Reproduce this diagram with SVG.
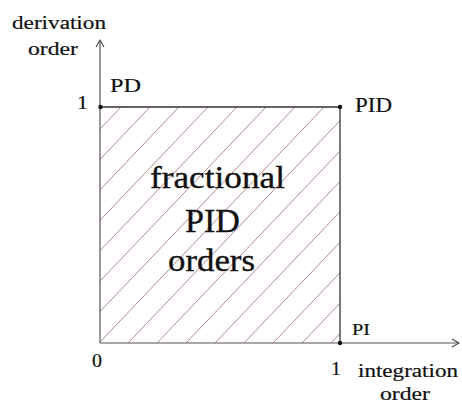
<svg xmlns="http://www.w3.org/2000/svg" width="462" height="403" viewBox="0 0 462 403">
<style>
text{font-family:"Liberation Serif","Times New Roman",serif;fill:#111;stroke:#111;stroke-width:0.2}
.big{stroke-width:0.35}
.ax{stroke:#555;stroke-width:1.2;fill:none}
.bx{stroke:#333;stroke-width:1.3;fill:none}
.ah{stroke:#444;stroke-width:1.1;fill:none}
.h{stroke:#8a3a3a;stroke-width:0.75;opacity:0.8}
.dot{fill:#111}
</style>
<defs>
<clipPath id="clip"><rect x="100" y="107" width="240" height="236"/></clipPath>
</defs>
<rect width="462" height="403" fill="#fff"/>
<g id="hatch" clip-path="url(#clip)">
<path class="h" d="M-104,343l225,-236M-75,343l225,-236M-46,343l225,-236M-17,343l225,-236M12,343l225,-236M41,343l225,-236M70,343l225,-236M99,343l225,-236M128,343l225,-236M157,343l225,-236M186,343l225,-236M215,343l225,-236M244,343l225,-236M273,343l225,-236M302,343l225,-236M331,343l225,-236"/>
</g>
<g id="connectors">
<line class="ax" x1="100" y1="343" x2="100" y2="41"/>
<path class="ah" d="M96,47L100,40L104,47"/>
<line class="ax" x1="100" y1="343" x2="458" y2="343"/>
<path class="ah" d="M452,339L459,343L452,347"/>
<line class="bx" x1="100" y1="107" x2="340" y2="107"/>
<line class="bx" x1="340" y1="107" x2="340" y2="343"/>
</g>
<g id="node-PD">
<circle class="dot" cx="100.5" cy="107" r="2.2"/>
<text x="110" y="92" font-size="19" textLength="31" lengthAdjust="spacingAndGlyphs">PD</text>
<text x="77" y="109" font-size="19" textLength="11" lengthAdjust="spacingAndGlyphs">1</text>
</g>
<g id="node-PID">
<circle class="dot" cx="340" cy="107" r="2.2"/>
<text x="355" y="112" font-size="20" textLength="37" lengthAdjust="spacingAndGlyphs">PID</text>
</g>
<g id="node-PI">
<circle class="dot" cx="340" cy="343" r="2.2"/>
<text x="352" y="335" font-size="17" textLength="18" lengthAdjust="spacingAndGlyphs">PI</text>
<text x="331" y="375" font-size="19" textLength="10" lengthAdjust="spacingAndGlyphs">1</text>
</g>
<g id="node-origin">
<text x="92" y="367" font-size="19" textLength="10" lengthAdjust="spacingAndGlyphs">0</text>
</g>
<g id="label-y">
<text x="12" y="29" font-size="19" textLength="94" lengthAdjust="spacingAndGlyphs">derivation</text>
<text x="28" y="55" font-size="19" textLength="50" lengthAdjust="spacingAndGlyphs">order</text>
</g>
<g id="label-x">
<text x="358" y="377" font-size="19" textLength="100" lengthAdjust="spacingAndGlyphs">integration</text>
<text x="380" y="400" font-size="19" textLength="50" lengthAdjust="spacingAndGlyphs">order</text>
</g>
<g id="node-region">
<text class="big" x="150" y="188" font-size="32" textLength="135" lengthAdjust="spacingAndGlyphs">fractional</text>
<text class="big" x="185" y="232" font-size="33" textLength="55" lengthAdjust="spacingAndGlyphs">PID</text>
<text class="big" x="168" y="271" font-size="32" textLength="87" lengthAdjust="spacingAndGlyphs">orders</text>
</g>
</svg>
